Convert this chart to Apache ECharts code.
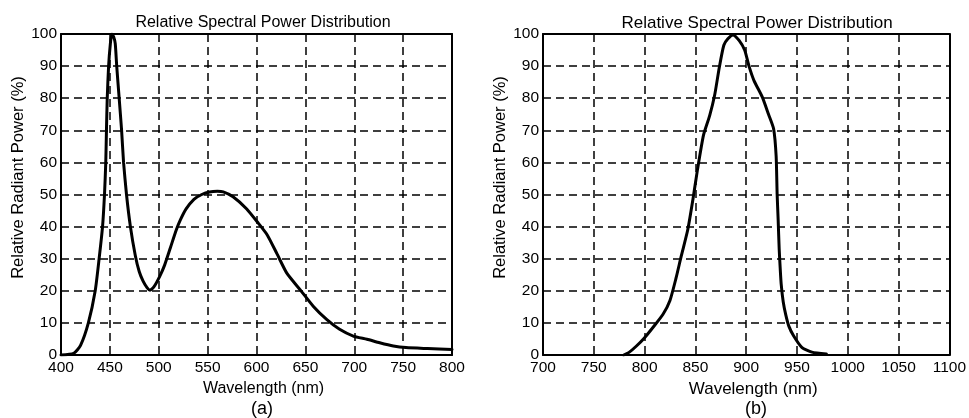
<!DOCTYPE html>
<html>
<head>
<meta charset="utf-8">
<script src="https://cdn.jsdelivr.net/npm/echarts@6/dist/echarts.min.js"></script>
<style>
  html, body { margin: 0; padding: 0; background: #fff; }
  #main { width: 969px; height: 418px; }
</style>
</head>
<body>
<div id="main"></div>
<script>
// (a) 蓝光+荧光粉 光谱
var wavelengthA = [400, 413, 420, 428, 435, 439, 442.5, 444.5, 445.8, 446.5, 447.3, 448.7, 450.5, 452, 454, 455.5, 457, 459.5, 462, 464, 467, 471, 476, 480, 484, 488, 491, 495, 501, 506, 512, 518, 522, 528, 536, 544, 552, 560, 566, 576, 590, 602, 611, 621, 631, 645, 658, 672, 685, 699, 713, 726, 740, 753, 775, 800];
var powerA = [0, 0.5, 3, 10, 20, 30, 40, 50, 60, 70, 80, 90, 97, 100, 99, 97, 90, 80, 70, 60, 50, 40, 31, 26, 23, 21, 20.2, 21.2, 24.5, 28, 33.5, 39, 42, 45.5, 48.5, 50, 50.8, 51, 50.8, 49.3, 45.5, 41, 37.4, 31.5, 25.5, 20.2, 15.2, 11, 8, 5.9, 4.9, 3.8, 2.8, 2.3, 2, 1.7];

// (b) 红外光谱
var wavelengthB = [779.5, 785, 792, 800, 808, 818, 825, 831, 836, 842.5, 847.5, 852, 858, 864, 869, 873.5, 878, 882, 887, 893, 898.5, 902.8, 907.7, 915.8, 922, 927, 929.5, 930.5, 931.5, 932.5, 933.5, 934.5, 936.5, 939, 942, 946.8, 955, 964.7, 979];
var powerB = [0, 0.9, 2.8, 5.4, 8.5, 12.6, 17, 24, 30.7, 39, 48.3, 57.6, 68.5, 74.5, 81, 89.5, 96.5, 98.5, 99.7, 98, 95, 90, 85.5, 80.4, 75, 70.5, 62, 50, 42, 33, 27, 22, 16.5, 12.5, 9, 5.9, 2.3, 0.9, 0.3];

var titleText = 'Relative Spectral Power Distribution';
var xName = 'Wavelength (nm)';
var yName = 'Relative Radiant Power (%)';
var fontName = 'Liberation Sans';

function pairs(xs, ys) {
    var out = [];
    for (var i = 0; i < xs.length; i++) {
        out.push([xs[i], ys[i]]);
    }
    return out;
}

var dashLine = { show: true, lineStyle: { color: '#000', type: [8, 5], width: 1.5 } };
var frameLine = { show: true, onZero: false, lineStyle: { color: '#000', width: 2 } };

function makeX(idx, min, max, fs) {
    return {
        type: 'value', gridIndex: idx, min: min, max: max, interval: 50,
        name: xName, nameLocation: 'middle', nameGap: 22,
        nameTextStyle: { color: '#000', fontSize: fs, fontFamily: fontName, padding: [0, 0, 0, 14] },
        axisLine: frameLine, axisTick: { show: false },
        axisLabel: {
            color: '#000', fontSize: 15.5, fontFamily: fontName, margin: 5,
            showMinLabel: true, showMaxLabel: true,
            formatter: function (v) { return String(v); }
        },
        splitLine: dashLine
    };
}

// 上边框
function makeXTop(idx, min, max) {
    return {
        type: 'value', gridIndex: idx, min: min, max: max, position: 'top',
        axisLine: frameLine, axisTick: { show: false }, axisLabel: { show: false }, splitLine: { show: false }
    };
}

function makeY(idx) {
    return {
        type: 'value', gridIndex: idx, min: 0, max: 100, interval: 10,
        name: yName, nameLocation: 'middle', nameGap: 34, nameRotate: 90,
        nameTextStyle: { color: '#000', fontSize: 16.5, fontFamily: fontName, padding: [0, 0, 0, 34] },
        axisLine: frameLine, axisTick: { show: false },
        axisLabel: { color: '#000', fontSize: 15.5, fontFamily: fontName, margin: 4, showMinLabel: true, showMaxLabel: true },
        splitLine: dashLine
    };
}

// 右边框
function makeYRight(idx) {
    return {
        type: 'value', gridIndex: idx, min: 0, max: 100, position: 'right',
        axisLine: frameLine, axisTick: { show: false }, axisLabel: { show: false }, splitLine: { show: false }
    };
}

function makeSeries(idx, data) {
    return {
        type: 'line', xAxisIndex: idx, yAxisIndex: idx,
        data: data, smooth: 0.2,
        showSymbol: false, silent: true,
        lineStyle: { color: '#000', width: 3, join: 'round', cap: 'round' }
    };
}

var option = {
    backgroundColor: '#fff',
    animation: false,
    title: [
        { text: titleText, left: 258, top: 10, textAlign: 'center', textStyle: { color: '#000', fontSize: 16, fontWeight: 'normal', fontFamily: fontName } },
        { text: titleText, left: 752, top: 10, textAlign: 'center', textStyle: { color: '#000', fontSize: 17, fontWeight: 'normal', fontFamily: fontName } },
        { text: '(a)', left: 257, top: 395, textAlign: 'center', textStyle: { color: '#000', fontSize: 18, fontWeight: 'normal', fontFamily: fontName } },
        { text: '(b)', left: 751, top: 395, textAlign: 'center', textStyle: { color: '#000', fontSize: 18, fontWeight: 'normal', fontFamily: fontName } }
    ],
    grid: [
        { left: 61, top: 34, width: 391, height: 321 },
        { left: 543, top: 34, width: 408, height: 321 }
    ],
    xAxis: [makeX(0, 400, 800, 16), makeX(1, 700, 1100, 17), makeXTop(0, 400, 800), makeXTop(1, 700, 1100)],
    yAxis: [makeY(0), makeY(1), makeYRight(0), makeYRight(1)],
    series: [
        makeSeries(0, pairs(wavelengthA, powerA)),
        makeSeries(1, pairs(wavelengthB, powerB))
    ]
};

var chart = echarts.init(document.getElementById('main'));
chart.setOption(option);
</script>
</body>
</html>
